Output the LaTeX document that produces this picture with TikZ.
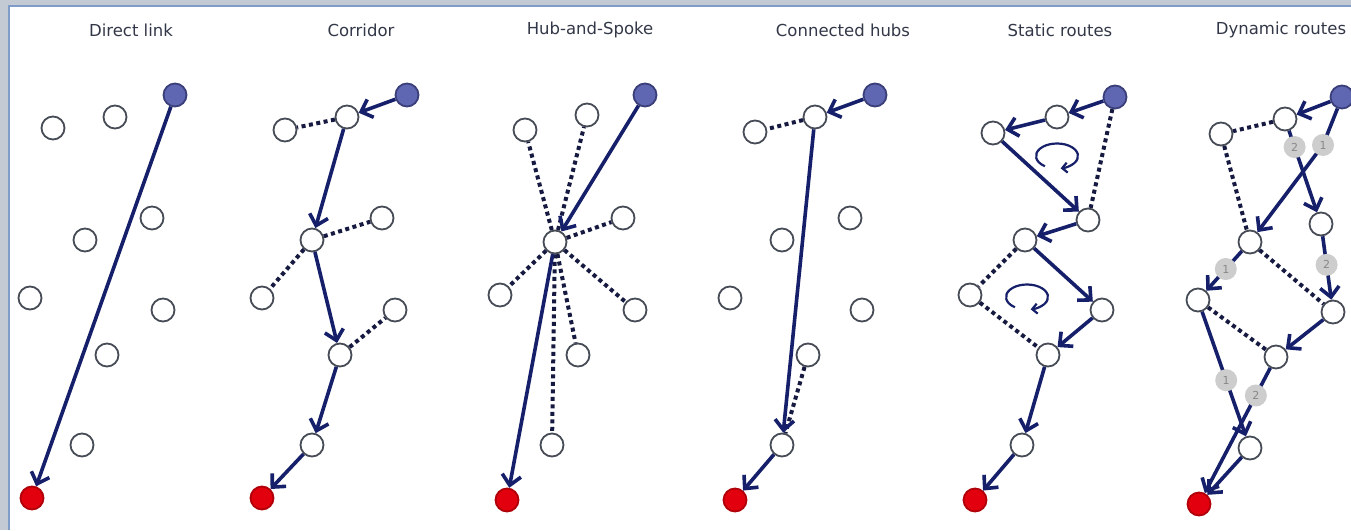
\documentclass[tikz,border=0pt]{standalone}
\usepackage{fontspec}
\setsansfont{DejaVu Sans}
\usetikzlibrary{arrows.meta}
\definecolor{navy}{HTML}{16206A}
\definecolor{dotcol}{HTML}{161A40}
\definecolor{nodeedge}{HTML}{464B55}
\definecolor{srcblue}{HTML}{5F67B2}
\definecolor{srcedge}{HTML}{3A3F7A}
\definecolor{dstred}{HTML}{E2000E}
\definecolor{dstedge}{HTML}{B0000A}
\definecolor{titlecol}{HTML}{333848}
\definecolor{bgcol}{HTML}{C3CAD3}
\definecolor{bordercol}{HTML}{7F9CC8}
\definecolor{lblgray}{HTML}{CDCDCD}
\definecolor{lbltext}{HTML}{888888}
\begin{document}
\begin{tikzpicture}[x=1pt,y=-1pt,
  wn/.style={circle,draw=nodeedge,line width=1.8pt,fill=white,minimum size=23pt,inner sep=0pt},
  src/.style={wn,fill=srcblue,draw=srcedge},
  dst/.style={wn,fill=dstred,draw=dstedge},
  arr/.style={draw=navy,line width=3.6pt,-{Straight Barb[length=10pt,width=19pt]}},
  dots/.style={draw=dotcol,line width=4pt,dash pattern=on 4pt off 3.5pt},
  ttl/.style={font=\sffamily\fontsize{16.5}{18}\selectfont,text=titlecol},
  lbl/.style={circle,fill=lblgray,minimum size=22pt,inner sep=0pt,font=\sffamily\fontsize{11}{11}\selectfont,text=lbltext},
  loopst/.style={draw=navy,line width=2.2pt,-{Straight Barb[length=5pt,width=10pt]}}
]
\useasboundingbox (0,0) rectangle (1351,530);
\clip (0,0) rectangle (1351,530);
\fill[bgcol] (0,0) rectangle (1351,530);
\fill[white] (8,5) rectangle (1351,530);
\draw[bordercol,line width=1.5pt] (8.75,530) -- (8.75,5.75) -- (1351,5.75);

% titles
\node[ttl] (t1) at (131,30) {Direct link};
\node[ttl] (t2) at (361,30) {Corridor};
\node[ttl] (t3) at (590,30) {Hub-and-Spoke};
\node[ttl] (t4) at (843,30) {Connected hubs};
\node[ttl] (t5) at (1060,30) {Static routes};
\node[ttl] (t6) at (1281,30) {Dynamic routes};

% ---------- Panel 1: Direct link
\node[src] (s1) at (175,95) {};
\node[dst] (d1) at (32,498) {};
\node[wn] (n11) at (53,128) {};
\node[wn] (n12) at (115,117) {};
\node[wn] (n13) at (152,218) {};
\node[wn] (n14) at (85,240) {};
\node[wn] (n15) at (30,298) {};
\node[wn] (n16) at (163,310) {};
\node[wn] (n17) at (107,355) {};
\node[wn] (n18) at (82,445) {};
\draw[arr] (s1) -- (d1);

% ---------- Panel 2: Corridor
\node[src] (s2) at (407,95) {};
\node[wn] (a2) at (347,117) {};
\node[wn] (al2) at (285,130) {};
\node[wn] (b2) at (312,240) {};
\node[wn] (br2) at (382,218) {};
\node[wn] (bl2) at (262,298) {};
\node[wn] (c2) at (340,355) {};
\node[wn] (cr2) at (395,310) {};
\node[wn] (e2) at (312,445) {};
\node[dst] (d2) at (262,498) {};
\draw[dots] (a2) -- (al2);
\draw[dots] (b2) -- (br2);
\draw[dots] (b2) -- (bl2);
\draw[dots] (c2) -- (cr2);
\draw[arr] (s2) -- (a2);
\draw[arr] (a2) -- (b2);
\draw[arr] (b2) -- (c2);
\draw[arr] (c2) -- (e2);
\draw[arr] (e2) -- (d2);

% ---------- Panel 3: Hub-and-Spoke
\node[src] (s3) at (645,95) {};
\node[wn] (h3) at (555,242) {};
\node[wn] (n31) at (525,130) {};
\node[wn] (n32) at (587,115) {};
\node[wn] (n33) at (623,218) {};
\node[wn] (n34) at (500,295) {};
\node[wn] (n35) at (635,310) {};
\node[wn] (n36) at (578,355) {};
\node[wn] (n37) at (552,445) {};
\node[dst] (d3) at (507,500) {};
\foreach \n in {n31,n32,n33,n34,n35,n36,n37} \draw[dots] (h3) -- (\n);
\draw[arr] (s3) -- (h3);
\draw[arr] (h3) -- (d3);

% ---------- Panel 4: Connected hubs
\node[src] (s4) at (875,95) {};
\node[wn] (a4) at (815,117) {};
\node[wn] (al4) at (755,132) {};
\node[wn] (n41) at (850,218) {};
\node[wn] (n42) at (782,240) {};
\node[wn] (n43) at (730,298) {};
\node[wn] (n44) at (862,310) {};
\node[wn] (e4) at (808,355) {};
\node[wn] (f4) at (782,445) {};
\node[dst] (d4) at (735,500) {};
\draw[dots] (a4) -- (al4);
\draw[dots] (e4) -- (f4);
\draw[arr] (s4) -- (a4);
\draw[arr] (a4) -- (f4);
\draw[arr] (f4) -- (d4);

% ---------- Panel 5: Static routes
\node[src] (s5) at (1115,97) {};
\node[wn] (a5) at (1057,117) {};
\node[wn] (b5) at (993,133) {};
\node[wn] (c5) at (1088,220) {};
\node[wn] (d5) at (1025,240) {};
\node[wn] (e5) at (970,295) {};
\node[wn] (f5) at (1102,310) {};
\node[wn] (g5) at (1048,355) {};
\node[wn] (h5) at (1022,445) {};
\node[dst] (r5) at (975,500) {};
\draw[dots] (s5) -- (c5);
\draw[dots] (d5) -- (e5);
\draw[dots] (e5) -- (g5);
\draw[arr] (s5) -- (a5);
\draw[arr] (a5) -- (b5);
\draw[arr] (b5) -- (c5);
\draw[arr] (c5) -- (d5);
\draw[arr] (d5) -- (f5);
\draw[arr] (f5) -- (g5);
\draw[arr] (g5) -- (h5);
\draw[arr] (h5) -- (r5);
\draw[loopst] (1057,156) ++(125:21 and 12.5) arc[start angle=125,end angle=440,x radius=21,y radius=12.5];
\draw[loopst] (1027,297) ++(125:21 and 12.5) arc[start angle=125,end angle=440,x radius=21,y radius=12.5];

% ---------- Panel 6: Dynamic routes
\node[src] (s6) at (1342,97) {};
\node[wn] (a6) at (1285,119) {};
\node[wn] (b6) at (1221,134) {};
\node[wn] (c6) at (1321,224) {};
\node[wn] (d6) at (1250,242) {};
\node[wn] (e6) at (1198,300) {};
\node[wn] (f6) at (1333,312) {};
\node[wn] (g6) at (1276,357) {};
\node[wn] (h6) at (1250,448) {};
\node[dst] (r6) at (1199,504) {};
\coordinate (q1) at (1323,145);
\draw[dots] (a6) -- (b6);
\draw[dots] (b6) -- (d6);
\draw[dots] (d6) -- (f6);
\draw[dots] (e6) -- (g6);
\draw[arr] (s6) -- (a6);
\draw[arr] (s6) -- (q1) -- (d6);
\node[lbl] (l61) at (q1) {1};
\draw[arr] (a6) -- node[lbl,pos=0.2] (l62) {2} (c6);
\draw[arr] (c6) -- node[lbl,pos=0.45] (l63) {2} (f6);
\draw[arr] (d6) -- node[lbl,pos=0.45] (l64) {1} (e6);
\draw[arr] (f6) -- (g6);
\draw[arr] (e6) -- node[lbl,pos=0.55] (l65) {1} (h6);
\draw[arr] (g6) -- node[lbl,pos=0.22] (l66) {2} (r6);
\draw[arr] (h6) -- (r6);
\end{tikzpicture}
\end{document}
